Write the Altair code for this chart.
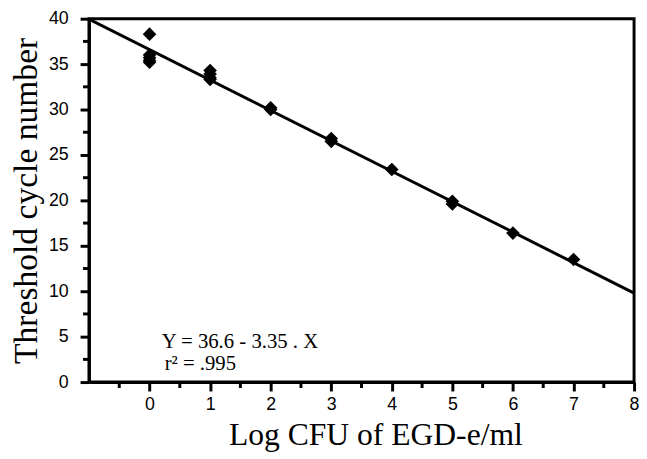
import altair as alt
import pandas as pd

# data
log_cfu = [0, 0, 0, 0, 0, 1, 1, 1, 1, 2, 2, 3, 3, 4, 5, 5, 6, 7]
ct = [38.3, 36.0, 35.7, 35.4, 35.2, 34.3, 33.9, 33.5, 33.3, 30.2, 30.0,
      26.8, 26.5, 23.4, 19.9, 19.6, 16.4, 13.5]

fit_x = [-1, 8]
fit_y = [39.95, 9.8]

ann_text = ["Y = 36.6 - 3.35 . X", "r\u00b2 = .995"]
ann_x = [0.2, 0.25]
ann_y = [3.8, 1.35]

x_major = [0, 1, 2, 3, 4, 5, 6, 7, 8]
x_minor = [-0.5, 0.5, 1.5, 2.5, 3.5, 4.5, 5.5, 6.5, 7.5]
y_major = [0, 5, 10, 15, 20, 25, 30, 35, 40]
y_minor = [2.5, 7.5, 12.5, 17.5, 22.5, 27.5, 32.5, 37.5]

W, H = 552, 368

pts = pd.DataFrame({"x": log_cfu, "y": ct})
fit = pd.DataFrame({"x": fit_x, "y": fit_y})
ann = pd.DataFrame({"x": ann_x, "y": ann_y, "t": ann_text})

xscale = alt.Scale(domain=[-1, 8], nice=False, zero=False)
yscale = alt.Scale(domain=[0, 40], nice=False, zero=False)

xaxis = alt.Axis(
    values=x_major,
    format="d",
    title="Log CFU of EGD-e/ml",
    titleFont="Liberation Serif",
    titleFontSize=32,
    titleFontWeight="normal",
    titleColor="black",
    titlePadding=6,
    titleX=290,
    labelFont="Liberation Sans",
    labelFontSize=18,
    labelColor="black",
    labelPadding=5,
    labelFlush=False,
    labelOverlap=False,
    ticks=True,
    tickSize=9,
    tickWidth=3,
    tickColor="black",
    tickOpacity=1,
    domainColor="black",
    domainWidth=3,
    grid=False,
)

yaxis = alt.Axis(
    values=y_major,
    format="d",
    title="Threshold cycle number",
    titleFont="Liberation Serif",
    titleFontSize=34,
    titleFontWeight="normal",
    titleColor="black",
    titlePadding=5,
    labelFont="Liberation Sans",
    labelFontSize=18,
    labelColor="black",
    labelPadding=12,
    labelFlush=False,
    labelOverlap=False,
    ticks=True,
    tickSize=9,
    tickWidth=3,
    tickColor="black",
    tickOpacity=1,
    domainColor="black",
    domainWidth=3,
    grid=False,
)

line = alt.Chart(fit).mark_line(color="black", strokeWidth=3, clip=True).encode(
    x=alt.X("x:Q", scale=xscale, axis=xaxis),
    y=alt.Y("y:Q", scale=yscale, axis=yaxis),
)


def xtick_layer(vals, length):
    df = pd.DataFrame({"v": vals})
    return alt.Chart(df).mark_rule(color="black", strokeWidth=3, opacity=1).encode(
        x=alt.X("v:Q", scale=xscale),
        y=alt.value(H),
        y2=alt.value(H + length),
    )


def ytick_layer(vals, length):
    df = pd.DataFrame({"v": vals})
    return alt.Chart(df).mark_rule(color="black", strokeWidth=3, opacity=1).encode(
        y=alt.Y("v:Q", scale=yscale),
        x=alt.value(0),
        x2=alt.value(-length),
    )


points = alt.Chart(pts).mark_point(
    shape="diamond", filled=True, color="black", size=190, opacity=1
).encode(
    x=alt.X("x:Q", scale=xscale),
    y=alt.Y("y:Q", scale=yscale),
)

text = alt.Chart(ann).mark_text(
    align="left", baseline="alphabetic", font="Liberation Serif", fontSize=21, color="black"
).encode(
    x=alt.X("x:Q", scale=xscale),
    y=alt.Y("y:Q", scale=yscale),
    text="t:N",
)

chart = (
    alt.layer(
        line, points, text,
        xtick_layer(x_minor, 6),
        ytick_layer(y_minor, 6),
    )
    .properties(
        width=W,
        height=H,
        autosize=alt.AutoSizeParams(type="none"),
        padding={"left": 82, "top": 8, "right": 5, "bottom": 70},
        background="white",
    )
    .configure_view(stroke="black", strokeWidth=3)
)

chart.save("out.html", embed_options={"renderer": "svg", "actions": False})
